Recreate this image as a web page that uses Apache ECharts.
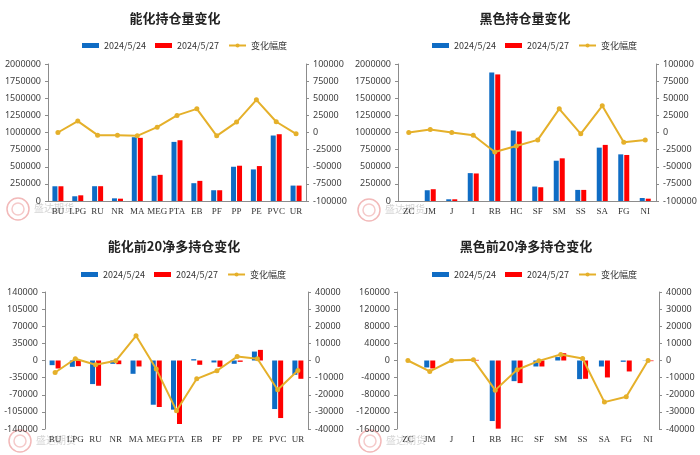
<!DOCTYPE html>
<html>
<head>
<meta charset="utf-8">
<script src="https://cdn.jsdelivr.net/npm/echarts@6/dist/echarts.min.js"></script>
<style>
  html, body { margin: 0; padding: 0; background: #fff; }
  #main { width: 700px; height: 455px; }
</style>
</head>
<body>
<div id="main"></div>
<script>
// categories
var catsA = ["BU", "LPG", "RU", "NR", "MA", "MEG", "PTA", "EB", "PF", "PP", "PE", "PVC", "UR"];
var catsB = ["ZC", "JM", "J", "I", "RB", "HC", "SF", "SM", "SS", "SA", "FG", "NI"];

// 能化持仓量
var oiA24 = [215000, 69000, 216000, 39000, 931000, 368000, 863000, 260000, 157000, 500000, 461000, 956000, 225000];
var oiA27 = [215000, 83000, 216000, 34000, 922000, 382000, 887000, 294000, 157000, 515000, 510000, 975000, 225000];
var oiAChg = [0, 16700, -3900, -3900, -4900, 7800, 25000, 34500, -4900, 15200, 47700, 15700, -2000];

// 黑色持仓量
var oiB24 = [0, 157000, 25000, 407000, 1877000, 1029000, 211000, 588000, 162000, 779000, 681000, 44000];
var oiB27 = [0, 172000, 25000, 402000, 1848000, 1015000, 201000, 623000, 162000, 819000, 672000, 34000];
var oiBChg = [0, 4400, 0, -3900, -28400, -19600, -10800, 34500, -2000, 38900, -14200, -10800];

// 能化前20净多
var netA24 = [-9500, -12900, -48200, -6800, -27200, -90400, -100500, 2700, -4000, -6800, 18300, -99200, -29200];
var netA27 = [-16300, -11600, -51600, -7500, -12200, -95100, -129800, -8800, -12900, -2700, 21700, -117600, -37400];
var netAChg = [-7000, 1000, -2500, -200, 14400, -5000, -29300, -10700, -6000, 2300, 1000, -17100, -5800];

// 黑色前20净多
var netB24 = [0, -16300, 0, 0, -141400, -48200, -14000, 8000, -43500, -14000, -3100, -500];
var netB27 = [0, -18600, 0, 1500, -159200, -52800, -14000, 17000, -42700, -39600, -25600, -1500];
var netBChg = [0, -6400, 0, 400, -17300, -5400, -200, 3500, 1200, -24300, -21200, 0];

var names = ["2024/5/24", "2024/5/27", "变化幅度"];
var blue = "#0F6CC4", red = "#FF0000", gold = "#E5B02A";

var panels = [
  { title: "能化持仓量变化", cx: 175, ty: 18, lx: 77, ly: 36, logo: [18, 209],
    grid: { left: 48, top: 64, width: 258, height: 137 }, cats: catsA, a: oiA24, b: oiA27, c: oiAChg,
    left: [0, 2000000, 250000], right: [-100000, 100000, 25000], low: false },
  { title: "黑色持仓量变化", cx: 525, ty: 18, lx: 427, ly: 36, logo: [369, 210],
    grid: { left: 398, top: 64, width: 258, height: 137 }, cats: catsB, a: oiB24, b: oiB27, c: oiBChg,
    left: [0, 2000000, 250000], right: [-100000, 100000, 25000], low: false },
  { title: "能化前20净多持仓变化", cx: 174, ty: 246, lx: 76, ly: 265, logo: [20, 441],
    grid: { left: 45, top: 292, width: 263, height: 137 }, cats: catsA, a: netA24, b: netA27, c: netAChg,
    left: [-140000, 140000, 35000], right: [-40000, 40000, 10000], low: true },
  { title: "黑色前20净多持仓变化", cx: 526, ty: 246, lx: 427, ly: 265, logo: [370, 441],
    grid: { left: 397, top: 292, width: 262, height: 137 }, cats: catsB, a: netB24, b: netB27, c: netBChg,
    left: [-160000, 160000, 40000], right: [-40000, 40000, 10000], low: true }
];

var axisColor = "#8c8c8c";
var labelStyle = { fontSize: 9, color: "#404040", fontFamily: "Noto Sans",
  formatter: function (v) { return String(v); } };

var grids = [], xAxes = [], yAxes = [], series = [], legends = [], graphics = [];

panels.forEach(function (p, i) {
  grids.push(p.grid);
  xAxes.push({
    gridIndex: i, type: "category", data: p.cats,
    axisLine: { show: !p.low, onZero: false, lineStyle: { color: axisColor } },
    axisTick: { show: false },
    axisLabel: { interval: 0, margin: 6, fontSize: 9, color: "#333", fontFamily: "Liberation Serif" }
  });
  yAxes.push({
    gridIndex: i, type: "value", position: "left",
    min: p.left[0], max: p.left[1], interval: p.left[2],
    axisLine: { show: true, lineStyle: { color: axisColor } },
    axisTick: { show: true, length: 3, lineStyle: { color: axisColor } },
    splitLine: { show: false },
    axisLabel: Object.assign({ margin: 7 }, labelStyle)
  });
  yAxes.push({
    gridIndex: i, type: "value", position: "right",
    min: p.right[0], max: p.right[1], interval: p.right[2],
    axisLine: { show: true, lineStyle: { color: axisColor } },
    axisTick: { show: true, length: 3, lineStyle: { color: axisColor } },
    splitLine: { show: false },
    axisLabel: Object.assign({ margin: 7 }, labelStyle)
  });
  series.push({
    name: names[0], type: "bar", xAxisIndex: i, yAxisIndex: i * 2,
    data: p.a, barWidth: 5, barGap: "20%", itemStyle: { color: blue }
  });
  series.push({
    name: names[1], type: "bar", xAxisIndex: i, yAxisIndex: i * 2,
    data: p.b, barWidth: 5, barGap: "20%", itemStyle: { color: red }
  });
  series.push({
    name: names[2], type: "line", xAxisIndex: i, yAxisIndex: i * 2 + 1,
    data: p.c, symbol: "circle", symbolSize: 5,
    lineStyle: { width: 2, color: gold }, itemStyle: { color: gold }
  });
  legends.push({
    left: p.lx, top: p.ly, itemWidth: 17, itemHeight: 5, itemGap: 9,
    textStyle: { fontSize: 9, color: "#333", fontFamily: "Noto Sans CJK SC" },
    data: [
      { name: names[0], icon: "rect" },
      { name: names[1], icon: "rect" },
      { name: names[2] }
    ]
  });
  graphics.push({
    type: "text", x: p.cx, y: p.ty,
    style: { text: p.title, textAlign: "center", textVerticalAlign: "middle",
      font: "bold 13px 'Noto Sans CJK SC'", fill: "#222" }
  });
  // faint logo watermark
  graphics.push({
    type: "circle", shape: { cx: p.logo[0], cy: p.logo[1], r: 11 },
    style: { fill: "none", stroke: "#F2B9B9", lineWidth: 1.5 }, z: -1
  });
  graphics.push({
    type: "circle", shape: { cx: p.logo[0], cy: p.logo[1], r: 6 },
    style: { fill: "none", stroke: "#F5CACA", lineWidth: 1.5 }, z: -1
  });
  graphics.push({
    type: "text", x: p.logo[0] + 16, y: p.logo[1] - 1,
    style: { text: "盛达期货", textVerticalAlign: "middle",
      font: "10px 'Noto Sans CJK SC'", fill: "#D5D5D5" }, z: -1
  });
});

var chart = echarts.init(document.getElementById("main"));
chart.setOption({
  animation: false,
  backgroundColor: "#fff",
  grid: grids,
  xAxis: xAxes,
  yAxis: yAxes,
  legend: legends,
  series: series,
  graphic: graphics
});
</script>
</body>
</html>
